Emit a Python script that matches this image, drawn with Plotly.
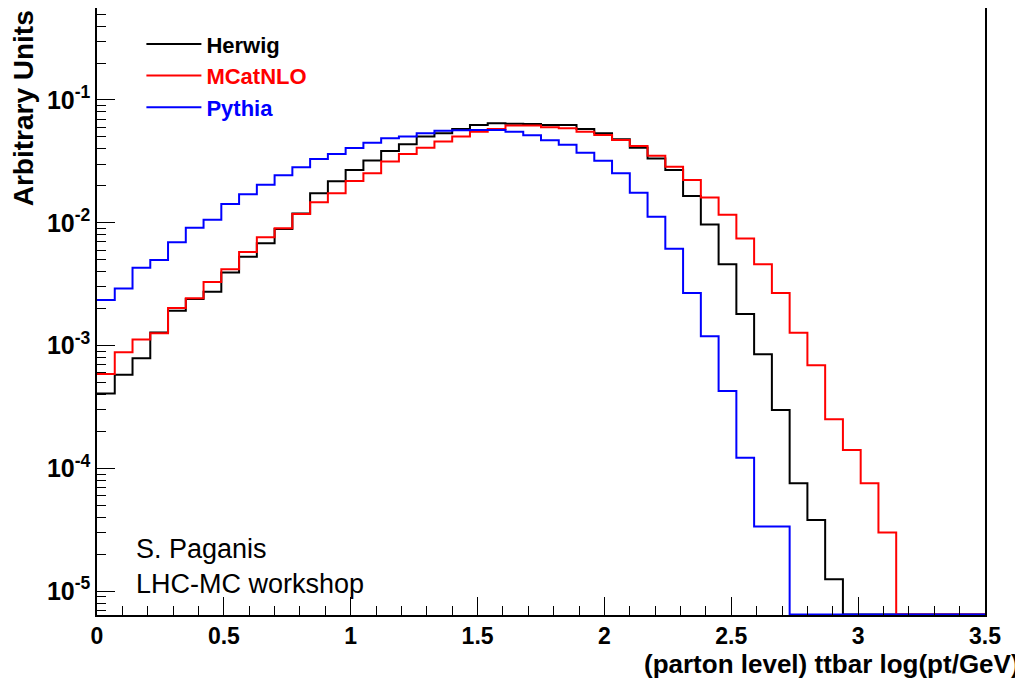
import numpy as np
import plotly.graph_objects as go

# 50 bins of width 0.07 in log10(pt/GeV)
bin_edges = [round(i * 0.07, 2) for i in range(51)]

herwig = [4.08e-4, 5.79e-4, 7.87e-4, 1.28e-3, 1.92e-3, 2.40e-3, 2.75e-3, 3.93e-3, 5.30e-3, 6.81e-3,
          8.91e-3, 1.19e-2, 1.74e-2, 2.18e-2, 2.69e-2, 3.21e-2, 3.85e-2, 4.36e-2, 5.03e-2, 5.35e-2,
          5.81e-2, 6.26e-2, 6.45e-2, 6.40e-2, 6.38e-2, 6.26e-2, 6.26e-2, 5.81e-2, 5.35e-2, 4.78e-2,
          4.09e-2, 3.33e-2, 2.69e-2, 1.65e-2, 9.70e-3, 4.59e-3, 1.81e-3, 8.49e-4, 2.99e-4, 7.57e-5,
          3.80e-5, 1.25e-5, 0, 0, 0, 0, 0, 0, 0, 0]
mcatnlo = [5.87e-4, 8.81e-4, 1.12e-3, 1.26e-3, 2.02e-3, 2.43e-3, 3.30e-3, 4.18e-3, 5.78e-3, 7.62e-3,
           9.02e-3, 1.18e-2, 1.47e-2, 1.74e-2, 2.19e-2, 2.53e-2, 3.15e-2, 3.63e-2, 4.09e-2, 4.58e-2,
           5.03e-2, 5.52e-2, 5.81e-2, 6.20e-2, 6.20e-2, 6.00e-2, 5.88e-2, 5.52e-2, 5.19e-2, 4.72e-2,
           4.22e-2, 3.52e-2, 2.86e-2, 2.23e-2, 1.61e-2, 1.16e-2, 7.43e-3, 4.59e-3, 2.68e-3, 1.27e-3,
           6.90e-4, 2.51e-4, 1.41e-4, 7.57e-5, 3.0e-5, 0, 0, 0, 0, 0]
pythia = [2.35e-3, 2.91e-3, 4.31e-3, 4.98e-3, 6.94e-3, 9.12e-3, 1.06e-2, 1.42e-2, 1.71e-2, 2.04e-2,
          2.44e-2, 2.83e-2, 3.31e-2, 3.63e-2, 4.06e-2, 4.49e-2, 4.88e-2, 5.03e-2, 5.35e-2, 5.62e-2,
          5.66e-2, 5.70e-2, 5.70e-2, 5.52e-2, 5.16e-2, 4.70e-2, 4.32e-2, 3.72e-2, 3.20e-2, 2.53e-2,
          1.76e-2, 1.12e-2, 6.15e-3, 2.68e-3, 1.19e-3, 4.27e-4, 1.22e-4, 3.37e-5, 3.37e-5, 0,
          0, 0, 0, 0, 0, 0, 0, 0, 0, 0]

y_range = [-5.194, -0.251]
floor = 10 ** y_range[0] * 1.01  # empty bins sit on the frame like in ROOT

fig = go.Figure()
for name, vals, col in [("Herwig", herwig, "black"), ("MCatNLO", mcatnlo, "red"), ("Pythia", pythia, "blue")]:
    y = [v if v > 0 else floor for v in vals]
    fig.add_trace(go.Scatter(
        x=bin_edges, y=y + [y[-1]], mode="lines", line=dict(color=col, width=2, shape="hv"),
        name="<b><span style='color:%s'>%s</span></b>" % (col, name)))

font = dict(family="Liberation Sans, Arial", size=25, color="black")
yt = [1e-5, 1e-4, 1e-3, 1e-2, 1e-1]
# the page adds ~8px body margin, so the figure is a bit smaller than the window
fig.update_layout(
    width=1015, height=673, plot_bgcolor="white", paper_bgcolor="white",
    margin=dict(l=89, r=38, t=0, b=66, autoexpand=False),
    font=font,
    legend=dict(x=0.05, y=0.975, xanchor="left", yanchor="top", bgcolor="rgba(0,0,0,0)",
                font=dict(size=22), tracegroupgap=0, itemwidth=55),
    xaxis=dict(range=[0, 3.5], tickvals=[0, 0.5, 1, 1.5, 2, 2.5, 3, 3.5],
               ticktext=["<b>%g</b>" % v for v in [0, 0.5, 1, 1.5, 2, 2.5, 3, 3.5]],
               tickfont=dict(size=23), ticklabelstandoff=0,
               ticks="inside", ticklen=18, tickcolor="black", showgrid=False, zeroline=False,
               showline=True, linecolor="black", linewidth=1.5, mirror=True,
               minor=dict(dtick=0.1, ticks="inside", ticklen=9, tickcolor="black")),
    yaxis=dict(type="log", range=y_range, tickvals=yt,
               ticktext=["<b>10<sup>%d</sup></b>" % int(np.log10(v)) for v in yt],
               ticks="inside", ticklen=18, tickcolor="black", showgrid=False,
               showline=True, linecolor="black", linewidth=1.5, mirror=True,
               minor=dict(dtick="D1", ticks="inside", ticklen=9, tickcolor="black")),
    annotations=[
        dict(text="<b>(parton level) ttbar log(pt/GeV)</b>", xref="paper", yref="paper",
             x=1.042, y=-0.053, xanchor="right", yanchor="top", showarrow=False, font=dict(size=26)),
        dict(text="<b>Arbitrary Units</b>", xref="paper", yref="paper", x=-0.083, y=1.0,
             xanchor="center", yanchor="top", textangle=-90, showarrow=False, font=dict(size=28)),
        dict(text="S. Paganis<br>LHC-MC workshop", xref="paper", yref="paper", x=0.042, y=0.08,
             xanchor="left", yanchor="middle", align="left", showarrow=False,
             font=dict(size=27, family="Liberation Sans, Arial")),
    ],
)
fig.write_html("out.html")
